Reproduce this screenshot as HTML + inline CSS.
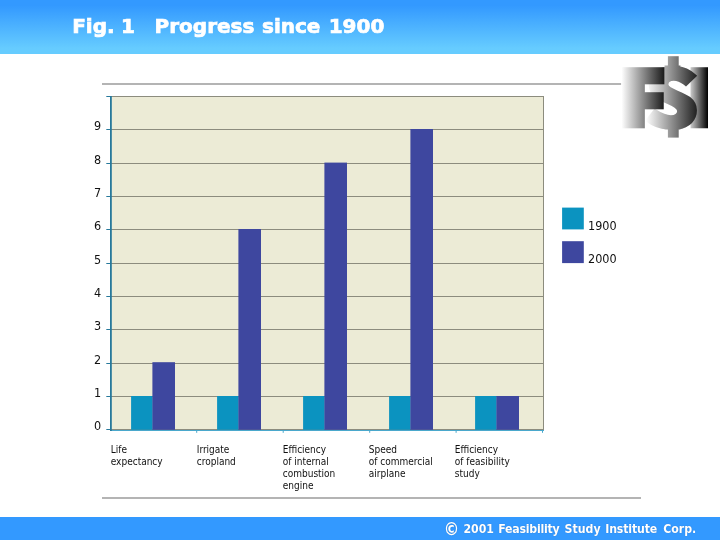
<!DOCTYPE html>
<html><head><meta charset="utf-8">
<title>Fig. 1 Progress since 1900</title>
<style>
html,body{margin:0;padding:0;}
body{width:720px;height:540px;position:relative;overflow:hidden;background:#fff;font-family:"DejaVu Sans Condensed","DejaVu Sans","Liberation Sans",sans-serif;}
.abs{position:absolute;}
#hdr{left:0;top:0;width:720px;height:54px;background:linear-gradient(#3399ff 0%,#3399ff 10%,#66ccff 90%,#66ccff 100%);}
#title{left:73.2px;top:13.5px;width:400px;height:24px;-webkit-text-stroke:0.7px #fff;font-family:"DejaVu Sans","Liberation Sans",sans-serif;font-weight:bold;font-size:20px;color:#fff;white-space:pre;line-height:24px;}
#ftr{left:0;top:517px;width:720px;height:23px;background:#3399ff;}
#copy{left:446px;top:522px;width:270px;height:16px;transform:scaleY(1.08);transform-origin:0 11.4px;font-family:"DejaVu Sans","Liberation Sans",sans-serif;font-weight:bold;font-size:11px;color:#fff;white-space:pre;line-height:16px;text-shadow:0 0 1px #2a6fc0;}
.gl{left:102px;width:539px;height:2px;background:#b4b4b4;}
.yl{font-size:12.5px;color:#111;left:94px;line-height:14px;}
.xl{font-size:10px;color:#111;line-height:12px;top:444px;white-space:pre;}
.lg{font-size:12.5px;color:#111;left:588px;line-height:14px;}
#title span,#copy span{position:absolute;top:0;white-space:pre;}
</style></head><body>
<div id="hdr" class="abs"></div>
<div id="title" class="abs"><span style="left:-1px">Fig. </span><span style="left:47.8px">1 </span><span style="left:81.4px">Progress </span><span style="left:188.8px">since </span><span style="left:255.5px">1900</span></div>
<div class="abs gl" style="top:83px"></div>
<div class="abs gl" style="top:497px"></div>
<svg class="abs" style="left:0;top:0" width="720" height="540" viewBox="0 0 720 540">
<rect x="111" y="96" width="433" height="334" fill="#ecebd6"/>
<rect x="111" y="429" width="433" height="1" fill="#8c8c7e"/>
<rect x="106.3" y="429" width="4" height="1" fill="#27799b"/>
<rect x="111" y="396" width="433" height="1" fill="#8c8c7e"/>
<rect x="106.3" y="396" width="4" height="1" fill="#27799b"/>
<rect x="111" y="363" width="433" height="1" fill="#8c8c7e"/>
<rect x="106.3" y="363" width="4" height="1" fill="#27799b"/>
<rect x="111" y="329" width="433" height="1" fill="#8c8c7e"/>
<rect x="106.3" y="329" width="4" height="1" fill="#27799b"/>
<rect x="111" y="296" width="433" height="1" fill="#8c8c7e"/>
<rect x="106.3" y="296" width="4" height="1" fill="#27799b"/>
<rect x="111" y="263" width="433" height="1" fill="#8c8c7e"/>
<rect x="106.3" y="263" width="4" height="1" fill="#27799b"/>
<rect x="111" y="229" width="433" height="1" fill="#8c8c7e"/>
<rect x="106.3" y="229" width="4" height="1" fill="#27799b"/>
<rect x="111" y="196" width="433" height="1" fill="#8c8c7e"/>
<rect x="106.3" y="196" width="4" height="1" fill="#27799b"/>
<rect x="111" y="163" width="433" height="1" fill="#8c8c7e"/>
<rect x="106.3" y="163" width="4" height="1" fill="#27799b"/>
<rect x="111" y="129" width="433" height="1" fill="#8c8c7e"/>
<rect x="106.3" y="129" width="4" height="1" fill="#27799b"/>
<rect x="111" y="96" width="433" height="1" fill="#8c8c7e"/>
<rect x="106.3" y="96" width="4" height="1" fill="#27799b"/>
<rect x="543" y="96" width="1" height="334" fill="#8c8c7e"/>
<rect x="110" y="430" width="434" height="1" fill="#4aa8cc"/>
<rect x="131.1" y="396.0" width="21.6" height="33.8" fill="#0b93c0"/>
<rect x="152.4" y="362.2" width="22.6" height="67.6" fill="#3e479f"/>
<rect x="196.2" y="430" width="1" height="2.8" fill="#4aa8cc"/>
<rect x="217.1" y="396.0" width="21.6" height="33.8" fill="#0b93c0"/>
<rect x="238.4" y="229.0" width="22.6" height="200.8" fill="#3e479f"/>
<rect x="282.7" y="430" width="1" height="2.8" fill="#4aa8cc"/>
<rect x="303.1" y="396.0" width="21.6" height="33.8" fill="#0b93c0"/>
<rect x="324.4" y="162.6" width="22.6" height="267.2" fill="#3e479f"/>
<rect x="369.2" y="430" width="1" height="2.8" fill="#4aa8cc"/>
<rect x="389.1" y="396.0" width="21.6" height="33.8" fill="#0b93c0"/>
<rect x="410.4" y="129.0" width="22.6" height="300.8" fill="#3e479f"/>
<rect x="455.6" y="430" width="1" height="2.8" fill="#4aa8cc"/>
<rect x="475.1" y="396.0" width="21.6" height="33.8" fill="#0b93c0"/>
<rect x="496.4" y="396.0" width="22.6" height="33.8" fill="#3e479f"/>
<rect x="542.0" y="430" width="1" height="2.8" fill="#4aa8cc"/>
<rect x="110" y="96" width="1.8" height="335" fill="#27799b"/>
<rect x="562.1" y="207.6" width="21.7" height="21.8" fill="#0b93c0"/>
<rect x="562.1" y="241.2" width="21.7" height="21.9" fill="#3e479f"/>
</svg>
<div class="abs yl" style="top:419px">0</div>
<div class="abs yl" style="top:386px">1</div>
<div class="abs yl" style="top:353px">2</div>
<div class="abs yl" style="top:319px">3</div>
<div class="abs yl" style="top:286px">4</div>
<div class="abs yl" style="top:253px">5</div>
<div class="abs yl" style="top:219px">6</div>
<div class="abs yl" style="top:186px">7</div>
<div class="abs yl" style="top:153px">8</div>
<div class="abs yl" style="top:119px">9</div>
<div class="abs xl" style="left:110.75px">Life
expectancy</div>
<div class="abs xl" style="left:196.75px">Irrigate
cropland</div>
<div class="abs xl" style="left:282.75px">Efficiency
of internal
combustion
engine</div>
<div class="abs xl" style="left:368.75px">Speed
of commercial
airplane</div>
<div class="abs xl" style="left:454.75px">Efficiency
of feasibility
study</div>
<div class="abs lg" style="top:219px">1900</div>
<div class="abs lg" style="top:252px">2000</div>
<svg class="abs" style="left:0;top:0" width="720" height="540" viewBox="0 0 720 540" font-family="Liberation Sans, sans-serif" font-weight="bold" font-size="100">
<defs>
<linearGradient id="gI" gradientUnits="userSpaceOnUse" x1="-2.52" x2="26.68" y1="0" y2="0"><stop offset="0" stop-color="#e8e8e8"/><stop offset="1" stop-color="#000"/></linearGradient>
<linearGradient id="gS" gradientUnits="userSpaceOnUse" x1="1.30" x2="56.66" y1="0" y2="0"><stop offset="0" stop-color="#fff"/><stop offset="1" stop-color="#1c1c1c"/></linearGradient>
<linearGradient id="gB" gradientUnits="userSpaceOnUse" x1="646" x2="698" y1="0" y2="0"><stop offset="0" stop-color="#fff"/><stop offset="1" stop-color="#1c1c1c"/></linearGradient>
<clipPath id="cS"><rect x="600" y="65.4" width="120" height="64"/></clipPath>
<filter id="dil" filterUnits="userSpaceOnUse" x="600" y="50" width="120" height="100"><feMorphology operator="dilate" radius="5 0"/></filter>
<linearGradient id="gF" gradientUnits="userSpaceOnUse" x1="621.5" x2="666" y1="0" y2="0"><stop offset="0" stop-color="#fff"/><stop offset="1" stop-color="#111"/></linearGradient>
<mask id="mF" maskUnits="userSpaceOnUse" x="600" y="50" width="120" height="100"><g filter="url(#dil)"><g transform="translate(625.54,123.85) scale(0.537,0.763)" fill="#fff" stroke="#fff" stroke-width="11.14" stroke-linejoin="miter"><text x="0" y="0">F</text></g></g></mask>
</defs>
<g transform="translate(689.73,123.85) scale(0.685,0.763)"><text x="0" y="0" fill="url(#gI)" stroke="url(#gI)" stroke-width="11.14" stroke-linejoin="miter">I</text></g>
<rect x="667.9" y="56.2" width="10.8" height="12" fill="url(#gB)"/>
<rect x="667.9" y="126" width="10.8" height="11.6" fill="url(#gB)"/>
<g clip-path="url(#cS)"><g transform="translate(644.78,125.70) scale(0.9392265193370166,0.7862407862407862)"><text x="0" y="0" font-family="Noto Sans CJK SC, Liberation Sans, sans-serif" fill="url(#gS)" stroke="url(#gS)" stroke-width="7.0" stroke-linejoin="miter">$</text></g></g>
<rect x="615" y="60" width="56" height="75" fill="url(#gF)" mask="url(#mF)"/>
</svg>
<div id="ftr" class="abs"></div>
<div id="copy" class="abs"><span style="left:-2.2px;top:-0.5px;font-size:15.5px;">© </span><span style="left:17.4px">2001 </span><span style="left:52.3px;letter-spacing:-0.25px">Feasibility </span><span style="left:118.5px">Study </span><span style="left:159.2px;letter-spacing:-0.15px">Institute </span><span style="left:217.2px">Corp.</span></div>
</body></html>
